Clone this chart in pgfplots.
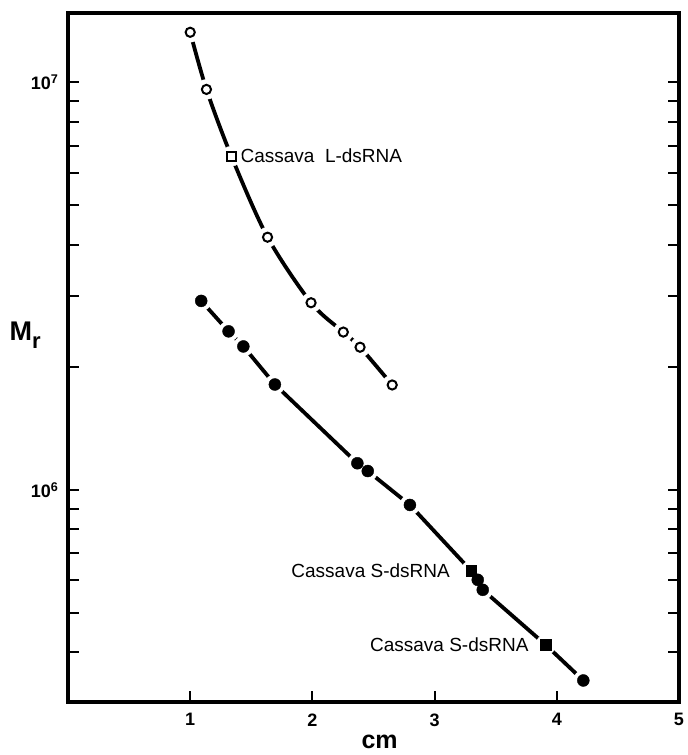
\documentclass[border=0pt]{standalone}
\usepackage{fontspec}
\setmainfont{Liberation Sans}
\usepackage{pgfplots}
\pgfplotsset{compat=1.18}
\newcommand{\tl}{\fontsize{18bp}{20bp}\selectfont\bfseries}
\newcommand{\ann}{\fontsize{19bp}{21bp}\selectfont}

\begin{document}
\begin{tikzpicture}
  \begin{axis}[
    scale only axis,
    width=611bp, height=689bp,
    xmin=0, xmax=5,
    ymode=log,
    ymin=3.02e5, ymax=1.48e7,
    xtick={1,2,3,4,5},
    xticklabels={{\tl 1},{\tl 2},{\tl 3},{\tl 4},{\tl 5}},
    xtick pos=left,
    ytick={1e6,1e7},
    yticklabels={{\tl 10\textsuperscript{6}},{\tl 10\textsuperscript{7}}},
    minor ytick={4e5,5e5,6e5,7e5,8e5,9e5,2e6,3e6,4e6,5e6,6e6,7e6,8e6,9e6},
    ytick pos=both,
    yticklabel pos=left,
    tick align=inside,
    major tick length=11bp,
    minor tick length=11bp,
    tick style={black, line width=2bp},
    axis line style={line width=3.6bp},
    xticklabel style={yshift=-8bp},
    yticklabel style={xshift=-6bp},
    xlabel={cm},
    xlabel style={font=\fontsize{25bp}{27bp}\selectfont\bfseries,
      at={(axis description cs:0.51,-0.058)}, anchor=center},
    ylabel={M\raisebox{-8bp}{\fontsize{22bp}{24bp}\selectfont r}},
    ylabel style={font=\fontsize{27bp}{29bp}\selectfont\bfseries, rotate=-90,
      at={(axis description cs:-0.07,0.533)}, anchor=center},
  ]

  % Cassava L-dsRNA series (open circles), smooth curve
  \addplot[black, line width=3.8bp, smooth] coordinates {
    (1.000,1.327e7) (1.133,9.61e6) (1.337,6.59e6) (1.633,4.17e6)
    (1.989,2.88e6) (2.253,2.44e6) (2.390,2.24e6) (2.653,1.81e6)
  };
  % S series (filled circles)
  \addplot[black, line width=3.8bp] coordinates {
    (1.090,2.91e6) (1.314,2.45e6) (1.435,2.25e6) (1.693,1.815e6)
    (2.368,1.163e6) (2.453,1.113e6) (2.798,9.19e5) (3.298,6.34e5)
    (3.353,6.02e5) (3.394,5.69e5) (3.909,4.17e5) (4.217,3.41e5)
  };

  % white gaps round the marks
  \addplot[only marks, mark=*, mark size=10bp, white] coordinates {
    (1.000,1.327e7) (1.133,9.61e6) (1.337,6.59e6) (1.633,4.17e6)
    (1.989,2.88e6) (2.253,2.44e6) (2.390,2.24e6) (2.653,1.81e6)
    (1.090,2.91e6) (1.314,2.45e6) (1.435,2.25e6) (1.693,1.815e6)
    (2.368,1.163e6) (2.453,1.113e6) (2.798,9.19e5) (3.298,6.34e5)
    (3.353,6.02e5) (3.394,5.69e5) (3.909,4.17e5) (4.217,3.41e5)
  };

  \addplot[only marks, mark=o, mark size=4.6bp,
    mark options={draw=black, fill=white, line width=2bp}] coordinates {
    (1.000,1.327e7) (1.133,9.61e6) (1.633,4.17e6)
    (1.989,2.88e6) (2.253,2.44e6) (2.390,2.24e6) (2.653,1.81e6)
  };
  \addplot[only marks, mark=square, mark size=4.4bp,
    mark options={draw=black, fill=white, line width=1.8bp}] coordinates {
    (1.337,6.59e6)
  };
  \addplot[only marks, mark=*, mark size=6bp,
    mark options={draw=black, fill=black}] coordinates {
    (1.090,2.91e6) (1.314,2.45e6) (1.435,2.25e6) (1.693,1.815e6)
    (2.368,1.163e6) (2.453,1.113e6) (2.798,9.19e5)
    (3.353,6.02e5) (3.394,5.69e5) (4.217,3.41e5)
  };
  \addplot[only marks, mark=square*, mark size=5.2bp,
    mark options={draw=black, fill=black}] coordinates {
    (3.298,6.34e5) (3.909,4.17e5)
  };

  \node[anchor=west, inner sep=0pt, xshift=9bp, font=\ann]
    at (axis cs:1.337,6.59e6) {Cassava\ \ L-dsRNA};
  \node[anchor=east, inner sep=0pt, xshift=-21bp, font=\ann]
    at (axis cs:3.298,6.34e5) {Cassava S-dsRNA};
  \node[anchor=east, inner sep=0pt, xshift=-17bp, font=\ann]
    at (axis cs:3.909,4.17e5) {Cassava S-dsRNA};
  \end{axis}
  \path ([xshift=-68bp,yshift=-53bp]current axis.south west)
    rectangle ([xshift=4bp,yshift=13bp]current axis.north east);
\end{tikzpicture}
\end{document}
